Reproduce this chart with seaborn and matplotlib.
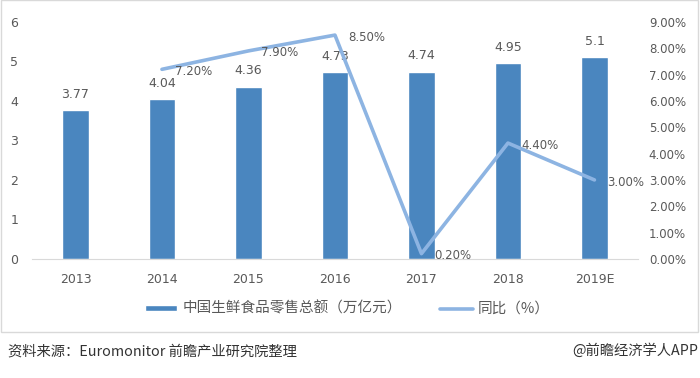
import numpy as np
import matplotlib
matplotlib.use('Agg')
import matplotlib.pyplot as plt
import seaborn as sns
import pandas as pd
from matplotlib.patches import Rectangle
from matplotlib.ticker import FuncFormatter

sns.set_style('white')
plt.rcParams['font.family'] = ['Noto Sans CJK SC', 'DejaVu Sans']
plt.rcParams['axes.unicode_minus'] = False

# 数据
years = ['2013', '2014', '2015', '2016', '2017', '2018', '2019E']
sales = [3.77, 4.04, 4.36, 4.73, 4.74, 4.95, 5.1]
growth_years = ['2014', '2015', '2016', '2017', '2018', '2019E']
growth = [7.2, 7.9, 8.5, 0.2, 4.4, 3.0]

bar_color = '#4a86bf'
line_color = '#8db4e2'
text_color = '#595959'

df = pd.DataFrame({'年份': years, '零售总额': sales})

fig = plt.figure(figsize=(7, 3.78), dpi=100)
ax = fig.add_axes([0.046, 0.315, 0.865, 0.627])

sns.barplot(data=df, x='年份', y='零售总额', color=bar_color, width=0.31,
            saturation=1, ax=ax, label='中国生鲜食品零售总额（万亿元）')
if ax.get_legend() is not None:
    ax.get_legend().remove()
for i, v in enumerate(sales):
    ax.text(i, v + 0.24, f'{v:g}', ha='center', va='bottom', fontsize=9,
            color=text_color, family='DejaVu Sans')

ax.set_ylim(0, 6)
ax.set_xlim(-0.5, 6.5)
ax.set_yticks(range(0, 7))
ax.set_xlabel('')
ax.set_ylabel('')
for s in ['top', 'right', 'left']:
    ax.spines[s].set_visible(False)
ax.spines['bottom'].set_color('#d9d9d9')
ax.tick_params(axis='both', length=0, labelsize=9, colors=text_color)
ax.tick_params(axis='x', pad=10)
ax.tick_params(axis='y', pad=10)
for lab in ax.get_xticklabels() + ax.get_yticklabels():
    lab.set_family('DejaVu Sans')

ax2 = ax.twinx()
gx = [years.index(y) for y in growth_years]
sns.lineplot(x=gx, y=growth, color=line_color, linewidth=2.6, ax=ax2,
             label='同比（%）', legend=False)
ax2.set_ylim(0, 9)
ax2.set_yticks(range(0, 10))
ax2.yaxis.set_major_formatter(FuncFormatter(lambda v, p: f'{v:.2f}%'))
ax2.set_xlim(-0.5, 6.5)
for s in ['top', 'right', 'left', 'bottom']:
    ax2.spines[s].set_visible(False)
ax2.tick_params(axis='y', length=0, labelsize=8.5, colors=text_color, pad=8)
for lab in ax2.get_yticklabels():
    lab.set_family('DejaVu Sans')

for x, y in zip(gx, growth):
    ax2.text(x + 0.15, y - 0.08, f'{y:.2f}%', ha='left', va='center', fontsize=8.5,
             color=text_color, family='DejaVu Sans')

# 图例
h1, l1 = ax.get_legend_handles_labels()
h2, l2 = ax2.get_legend_handles_labels()
fig.legend(h1 + h2, l1 + l2, loc='center', bbox_to_anchor=(0.496, 0.183),
           ncol=2, frameon=False, fontsize=10.5, handlelength=2.25,
           handleheight=0.3, columnspacing=2.6, handletextpad=0.35,
           labelcolor=text_color)

# 外框
fig.patches.append(Rectangle((0.001, 0.122), 0.996, 0.877, transform=fig.transFigure,
                             fill=False, edgecolor='#d9d9d9', linewidth=1))

fig.text(0.011, 0.069, '资料来源：Euromonitor 前瞻产业研究院整理', fontsize=10.3,
         color='#333333', va='center')
fig.text(0.997, 0.072, '@前瞻经济学人APP', fontsize=10.3, color='#333333',
         va='center', ha='right')

fig.savefig('out.png', dpi=100)
